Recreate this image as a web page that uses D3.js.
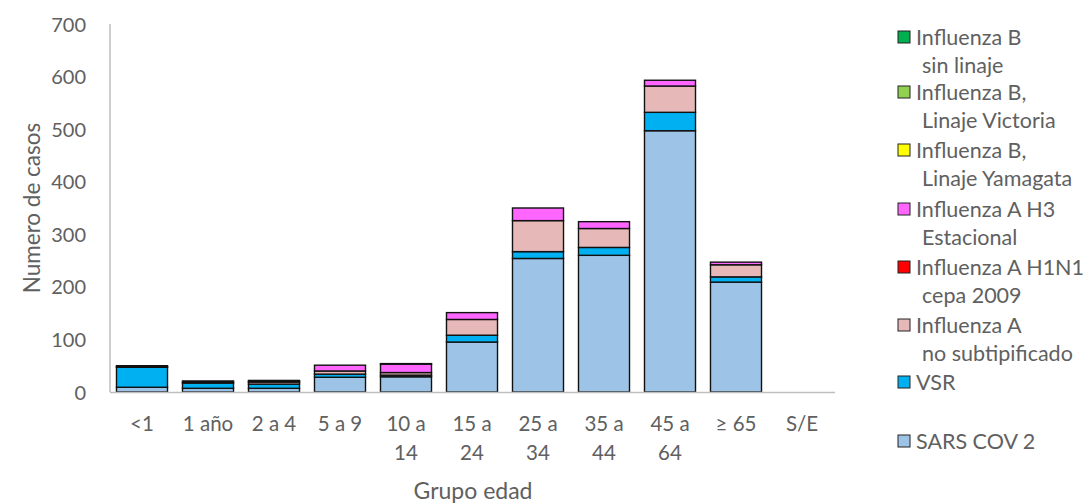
<!DOCTYPE html>
<html><head><meta charset="utf-8">
<script src="https://cdn.jsdelivr.net/npm/d3@7"></script>
<style>body{margin:0;background:#fff}svg{display:block}text{font-family:Lato,"Open Sans",sans-serif;fill:#606060}</style>
</head><body>
<svg id="c" width="1085" height="503"></svg>
<script>
const categories = ["<1","1 año","2 a 4","5 a 9","10 a 14","15 a 24","25 a 34","35 a 44","45 a 64","≥ 65","S/E"];
const sarsCov2     = [9, 7, 7, 28, 29, 95, 254, 260, 497, 209, 0];
const vsr          = [38, 10, 8, 6, 3, 13, 13, 15, 35, 10, 0];
const fluANoSub    = [1, 2, 4, 6, 5, 30, 59, 36, 50, 23, 0];
const fluAH1N1     = [0, 0, 1, 0, 0, 0, 0, 0, 0, 0, 0];
const fluAH3       = [2, 2, 2, 11, 16, 13, 24, 13, 11, 5, 0];
const fluBYamagata = [0, 0, 0, 0, 0, 0, 0, 0, 0, 0, 0];
const fluBVictoria = [0, 0, 0, 0, 0, 0, 0, 0, 0, 0, 0];
const fluBSinLinaje= [0, 0, 0, 0, 1, 0, 0, 0, 0, 0, 0];
const yTicks = [0,100,200,300,400,500,600,700];

const series = [
  {key:"sars", name:["SARS COV 2"], values:sarsCov2, color:"#9DC3E6"},
  {key:"vsr", name:["VSR"], values:vsr, color:"#00B0F0"},
  {key:"anosub", name:["Influenza A","no subtipificado"], values:fluANoSub, color:"#E6B9B8"},
  {key:"h1n1", name:["Influenza A H1N1","cepa 2009"], values:fluAH1N1, color:"#FF0000"},
  {key:"h3", name:["Influenza A H3","Estacional"], values:fluAH3, color:"#FF66FF"},
  {key:"yam", name:["Influenza B,","Linaje Yamagata"], values:fluBYamagata, color:"#FFFF00"},
  {key:"vic", name:["Influenza B,","Linaje Victoria"], values:fluBVictoria, color:"#92D050"},
  {key:"sin", name:["Influenza B","sin linaje"], values:fluBSinLinaje, color:"#00B050"}
];

const svg = d3.select("#c");
const x = d3.scaleBand().domain(categories).range([109, 835]).paddingInner(0.227).paddingOuter(0.1135);
const y = d3.scaleLinear().domain([0,700]).range([392, 24]);

const table = categories.map((c,i)=>{const o={cat:c}; series.forEach(s=>o[s.key]=s.values[i]); return o;});
const stack = d3.stack().keys(series.map(s=>s.key))(table);

svg.append("line").attr("x1",110).attr("x2",110).attr("y1",24).attr("y2",392).attr("stroke","#bfbfbf").attr("stroke-width",1.5);

stack.forEach((layer,li)=>{
  svg.append("g").selectAll("rect").data(layer.filter(d=>d[1]-d[0]>0)).join("rect")
    .attr("x",d=>x(d.data.cat)).attr("width",x.bandwidth())
    .attr("y",d=>y(d[1])).attr("height",d=>y(d[0])-y(d[1]))
    .attr("fill",series[li].color).attr("stroke","#111").attr("stroke-width",1.4);
});

svg.append("line").attr("x1",110).attr("x2",835).attr("y1",392.5).attr("y2",392.5).attr("stroke","#bfbfbf").attr("stroke-width",1.5);

const ya = d3.axisLeft(y).tickValues(yTicks).tickSize(0).tickPadding(0);
const yg = svg.append("g").attr("transform","translate(86,0)").call(ya);
yg.select(".domain").remove();
yg.selectAll("text").style("font-size","20px").attr("fill","#606060").attr("dy","0.35em");

const xa = d3.axisBottom(x).tickSize(0).tickFormat("");
const xg = svg.append("g").attr("transform","translate(0,392)").call(xa);
xg.select(".domain").remove();
xg.selectAll(".tick").each(function(d){
  const t = d3.select(this);
  let lines = [d];
  const m = d.match(/^(\d+ a) (\d+)$/);
  if (m && +m[2] >= 14) lines = [m[1], m[2]];
  lines.forEach((l,i)=>t.append("text").attr("y",39+i*29).attr("text-anchor","middle").style("font-size","20.5px").text(l));
});

svg.append("text").attr("x",473).attr("y",499).attr("text-anchor","middle").style("font-size","23px").text("Grupo edad");
svg.append("text").attr("transform","translate(40,208) rotate(-90)").attr("text-anchor","middle").style("font-size","22.5px").text("Numero de casos");

const legendY = {sin:37, vic:92, yam:150, h3:209, h1n1:267, anosub:325, vsr:382, sars:441};
const lg = svg.append("g");
series.forEach(s=>{
  const yy = legendY[s.key];
  lg.append("rect").attr("x",898).attr("y",yy-6).attr("width",12).attr("height",12).attr("fill",s.color).attr("stroke","#222").attr("stroke-width",1);
  s.name.forEach((n,i)=>lg.append("text").attr("x", i===0?916:922).attr("y", yy+i*28).attr("dy","0.35em").style("font-size","21.5px").text(n));
});
</script>
</body></html>
